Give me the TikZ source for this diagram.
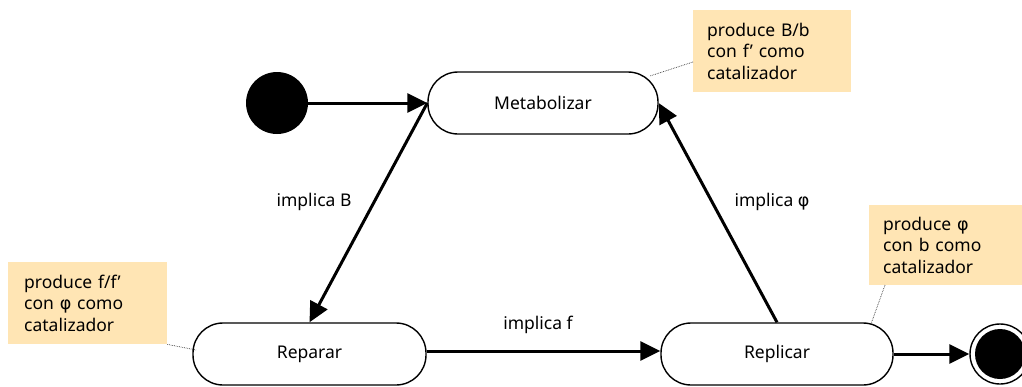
\documentclass[tikz,border=0pt]{standalone}
\usepackage{fontspec}
\setmainfont{Noto Sans}
\newfontfamily\phifont{DejaVu Sans}
\newcommand{\myphi}{{\phifont φ}}
\usetikzlibrary{arrows.meta}
\begin{document}
\begin{tikzpicture}[x=1pt,y=-1pt,
  state/.style={draw, line width=1.4pt, rounded corners=30pt, minimum width=230pt, minimum height=62pt, fill=white, inner sep=0pt, font=\fontsize{17.5}{21}\selectfont},
  note/.style={fill=noteorange, anchor=north west, align=left, inner xsep=14pt, inner ysep=0pt, font=\fontsize{17.5}{21.5}\selectfont},
  arr/.style={line width=3pt, -{Triangle[length=20pt,width=19pt]}},
  lbl/.style={font=\fontsize{17.5}{21}\selectfont, inner sep=0pt},
  link/.style={densely dotted, line width=0.7pt, black!80}
]
\definecolor{noteorange}{RGB}{255,229,180}
\useasboundingbox (0,0) rectangle (1022,386);
% notes
\node[note, text width=130pt, minimum height=82pt] (n1) at (693,10) {produce B/b\\con f’ como\\catalizador};
\node[note, text width=132pt, minimum height=80pt] (n2) at (869,205) {produce \myphi\\con b como\\catalizador};
\node[note, inner xsep=16pt, text width=127pt, minimum height=82pt] (n3) at (8,262) {produce f/f’\\con \myphi{} como\\catalizador};
% states
\node[circle, fill=black, minimum size=62pt, inner sep=0pt] (start) at (277,103) {};
\node[state] (met) at (543,103) {Metabolizar};
\node[state, minimum width=233pt] (rpa) at (309.5,354) {Reparar};
\node[state, minimum width=232pt] (rpl) at (777,354) {Replicar};
\node[circle, draw, line width=1.4pt, minimum size=60pt, inner sep=0pt] (end) at (1000,354) {};
\node[circle, fill=black, minimum size=50pt, inner sep=0pt] (endin) at (end.center) {};
% links
\draw[link] (n1.west |- 0,62) -- (650,76);
\coordinate (n3c) at (n3.south east);
\coordinate (n2c) at (885,285);
\draw[link] (n3c) -- (196,350);
\draw[link] (n2c) -- (871,324);
% arrows
\draw[arr] (start.east) -- (met.west);
\draw[arr] (met.west) -- (rpa.north);
\draw[arr] (rpl.north) -- (met.east);
\draw[arr] (rpa.east |- 0,351) -- (rpl.west |- 0,351);
\draw[arr] (rpl.east) -- (end.west);
% labels
\node[lbl] (l1) at (314,202) {implica B};
\node[lbl] (l2) at (772,202) {implica \myphi};
\node[lbl] (l3) at (538,325) {implica f};
\end{tikzpicture}
\end{document}
